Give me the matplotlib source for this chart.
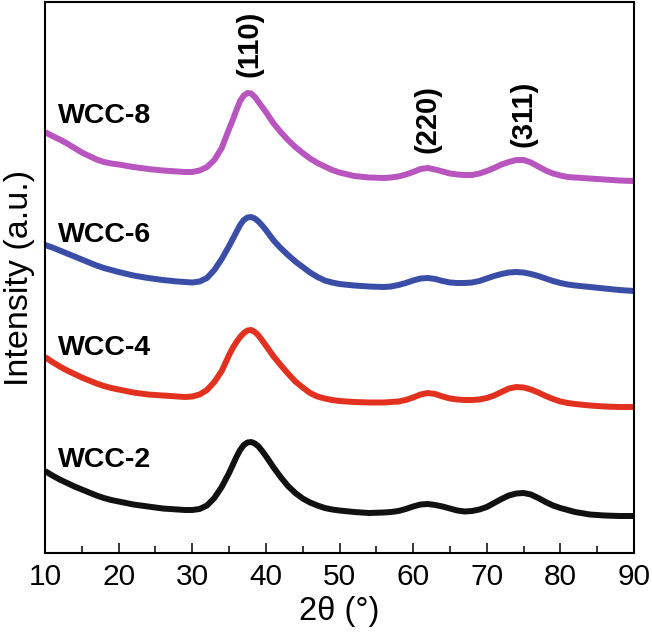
import matplotlib
matplotlib.use("Agg")
import matplotlib.pyplot as plt
from matplotlib.ticker import MultipleLocator

plt.rcParams['font.family'] = ['Liberation Sans', 'DejaVu Sans']

# ---- data (intensity in arbitrary units) ----
two_theta = [10, 11, 12, 13, 14, 15, 16, 17, 18, 19, 20,
             22, 24, 26, 28,
             29, 30, 31, 32, 33, 34, 35,
             35.5, 36, 36.5, 37, 37.5, 38, 38.5, 39, 39.5, 40,
             41, 42, 43, 44, 45, 46, 47, 48, 49, 50,
             52, 54, 56,
             57, 58, 59, 60, 61, 62, 63, 64, 65, 66, 67, 68, 69, 70,
             71, 72, 73, 74, 75, 76, 77, 78, 79, 80, 81, 82,
             84, 86, 88, 90]

wcc8 = [421, 417, 413.5, 409.5, 405, 400.5, 397, 393.5, 391, 389.5, 388.5,
        386, 384, 382.5, 381.5,
        381, 381, 382.5, 386, 393, 405, 424,
        433, 443, 452, 457.5, 460, 459.5, 456, 451, 446, 441,
        430, 421, 413, 406, 400, 394.5, 390, 386.5, 383, 380.5,
        377, 375.5, 375,
        375.5, 376.5, 378.5, 381, 384, 385, 383.5, 381.5, 379.5, 378.5, 378, 378, 379.5, 382,
        385, 388.5, 391, 393, 393, 390.5, 386.5, 382.5, 379.5, 377.5, 376, 375.5,
        374.5, 373.5, 372.5, 372]

wcc6 = [308, 305.5, 302.5, 299.5, 296.5, 293.5, 290.5, 287.5, 285, 283, 281,
        277.5, 275, 273, 271.5,
        271, 270.5, 271.5, 275, 283, 294, 307,
        314, 321, 328, 333, 335.5, 336, 334.5, 331.5, 327.5, 323,
        313, 305, 298, 291.5, 286, 280.5, 276, 272.5, 270.5, 269,
        267.5, 266.5, 266,
        266.5, 268, 270, 272.5, 274.5, 275, 274, 272, 270.5, 270, 270, 270.5, 272, 274.5,
        277, 279, 280.5, 281, 280.5, 279, 277, 274.5, 272, 270, 268.5, 267.5,
        266, 264.5, 263, 262]

wcc4 = [196, 191, 186.5, 182.5, 179, 175.5, 172.5, 169.5, 167, 165, 163.5,
        160.5, 158.5, 157.5, 156.5,
        156, 156.5, 158.5, 163, 171, 182, 198,
        205, 211, 216, 220, 222.5, 223, 221, 217.5, 212.5, 207.5,
        197, 188, 179.5, 171.5, 165.5, 160, 156.5, 154.5, 153, 152,
        151, 150.5, 150.5,
        151, 151.5, 153, 155.5, 158.5, 160, 159, 156.5, 154.5, 153.5, 153, 153, 153.5, 155,
        157.5, 161, 164.5, 166, 165.5, 163.5, 160.5, 157, 154, 151.5, 150, 149,
        147.5, 146.5, 146, 146]

wcc2 = [82, 77.5, 73.5, 70, 66.5, 63.5, 60.5, 57.5, 55, 53, 51.5,
        48.5, 46.5, 44.5, 43.5,
        43, 43, 44, 47.5, 55, 66, 80,
        88, 96, 103, 108, 110.5, 111, 109.5, 106.5, 102, 97,
        86, 76, 67, 60, 54.5, 50.5, 47.5, 45, 43.5, 42.5,
        41, 40, 40.5,
        41, 42, 44, 46.5, 48.5, 49, 48, 46.5, 44.5, 42.5, 41.5, 42, 43.5, 46,
        50, 54, 57.5, 59.5, 60, 58.5, 55, 51, 47.5, 45, 43, 41,
        38.5, 37.5, 37, 37]

names = ["WCC-2", "WCC-4", "WCC-6", "WCC-8"]
colors = ["#111111", "#E2321F", "#3A4EA8", "#B955BE"]
label_y = [86, 198, 311, 430]

peak_labels = ["(110)", "(220)", "(311)"]
peak_x = [37.8, 61.9, 75.0]
peak_y = [476, 400, 406]

# ---- figure ----
fig = plt.figure(figsize=(6.52, 6.37), dpi=100)
ax = fig.add_axes([45/652, 84/637, 589/652, 551/637])

for ys, c in zip([wcc2, wcc4, wcc6, wcc8], colors):
    ax.plot(two_theta, ys, color=c, lw=4.3, solid_joinstyle='round', solid_capstyle='butt')

for name, ly in zip(names, label_y):
    ax.text(11.8, ly, name, fontsize=20.5, fontweight='bold', ha='left', va='baseline')

for t, px, py in zip(peak_labels, peak_x, peak_y):
    ax.text(px, py, t, rotation=90, fontsize=21, fontweight='bold', ha='center', va='bottom')

ax.set_xlim(10, 90)
ax.set_ylim(0, 551)
ax.xaxis.set_major_locator(MultipleLocator(10))
ax.xaxis.set_minor_locator(MultipleLocator(5))
ax.set_yticks([])
ax.tick_params(axis='x', which='major', direction='in', length=7.2, width=1.1, labelsize=21.5, pad=7)
ax.tick_params(axis='x', which='minor', direction='in', length=4.8, width=1.1)
for s in ax.spines.values():
    s.set_linewidth(1.5)

ax.set_xlabel("2θ (°)", fontsize=23.5, labelpad=4)
ax.set_ylabel("Intensity (a.u.)", fontsize=24.5, labelpad=7)

fig.savefig("out.png", dpi=100)
